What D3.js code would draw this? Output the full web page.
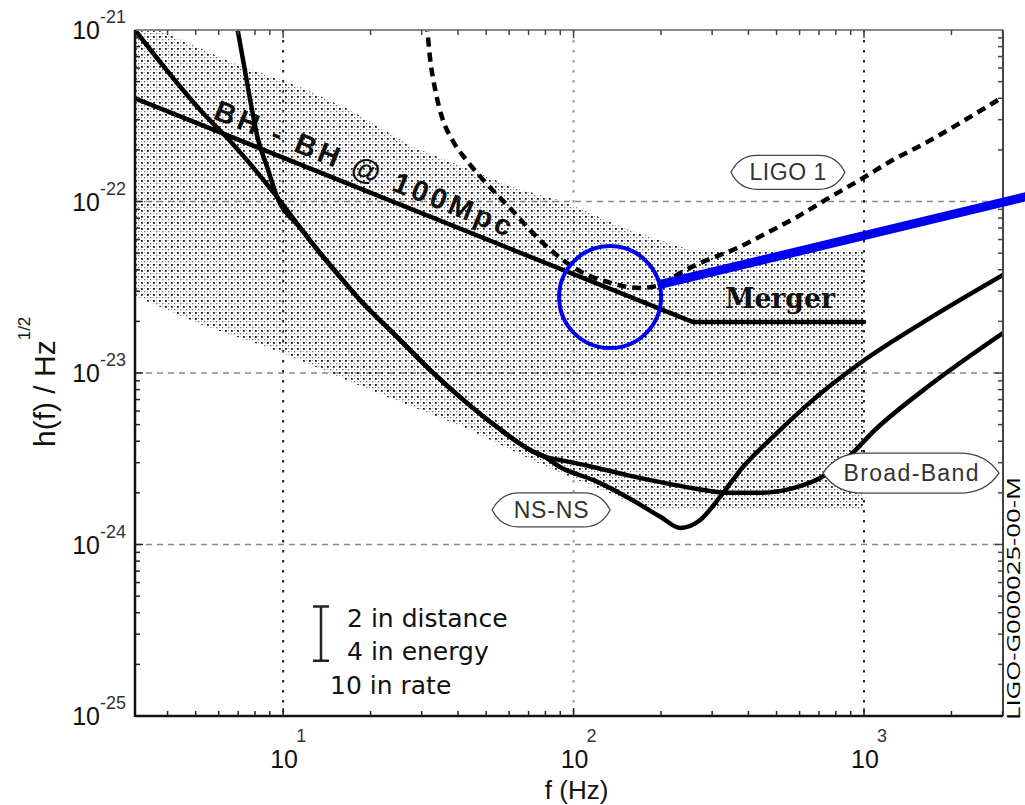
<!DOCTYPE html>
<meta charset="utf-8">
<style>
  body { margin: 0; background: #fff; }
  svg { display: block; }

  .curve { fill: none; stroke: #000; stroke-width: 4.5px; stroke-linejoin: round; stroke-linecap: round; }
  .ligo1 { fill: none; stroke: #000; stroke-width: 4.5px; stroke-dasharray: 9,6; }
  .tick-label { font-family: "Liberation Sans", Arial, sans-serif; font-size: 25px; fill: #111; }
  .tick-exp { font-family: "Liberation Sans", Arial, sans-serif; font-size: 18px; fill: #333; }
  .tag { fill: #fff; stroke: #444; stroke-width: 1.3px; }
  .tag-text { font-family: "Liberation Sans", Arial, sans-serif; font-size: 23px; fill: #333; text-anchor: middle; }
  .note { font-family: "DejaVu Sans", sans-serif; font-size: 25px; fill: #111; }
</style>
<body>
<script src="https://d3js.org/d3.v7.min.js"></script>
<script>

// shaded band of BH-BH sources
var bandUpper = [[3.09, 1.15e-21], [6.73, 6.43e-22], [11.4, 4.66e-22], [17.0, 3.42e-22],
  [28.0, 2.08e-22], [41.7, 1.59e-22], [61.9, 1.21e-22], [92, 1.0e-22], [156, 6.8e-23],
  [252, 5.21e-23], [1000, 5.21e-23]];
var bandLower = [[3.09, 2.81e-23], [5.06, 1.96e-23], [10, 1.31e-23], [18.8, 8.28e-24],
  [41.7, 4.84e-24], [81, 2.83e-24], [183, 1.59e-24], [1000, 1.59e-24]];

// BH-BH @ 100Mpc inspiral, then merger plateau
var bhbh = [[3.09, 4.0e-22], [258, 1.98e-23], [1000, 1.98e-23]];

// LIGO 1 (dashed)
var ligo1 = [[30.9, 1.1e-21], [31.3, 1.0e-21], [32.1, 6.68e-22], [33.4, 4.47e-22], [35.3, 3.07e-22],
  [38.2, 2.29e-22], [42.7, 1.75e-22], [49.6, 1.30e-22], [60.4, 9.16e-23], [79.8, 5.57e-23],
  [101, 4.09e-23], [134, 3.35e-23], [169, 3.13e-23], [199, 3.26e-23], [233, 3.83e-23],
  [273, 4.38e-23], [366, 5.36e-23], [449, 6.38e-23], [588, 8.13e-23], [764, 1.06e-22],
  [992, 1.37e-22], [1259, 1.75e-22], [1648, 2.22e-22], [2141, 2.87e-22], [3010, 4.07e-22]];

// common low frequency part of the two advanced curves
var sharedLow = [[11.4, 7.1e-23], [13.4, 5.01e-23], [15.3, 3.83e-23], [18.8, 2.56e-23],
  [24.7, 1.62e-23], [32.1, 1.04e-23], [41.7, 6.97e-24], [54.5, 4.84e-24], [70.8, 3.56e-24],
  [79.8, 3.24e-24]];

// broad-band configuration
var broadStart = [[6.9, 1.1e-21], [7.28, 6.68e-22], [7.70, 3.91e-22], [8.20, 2.29e-22],
  [8.81, 1.59e-22], [9.54, 1.06e-22]];
var broadEnd = [[89.8, 3.11e-24], [116.7, 2.83e-24], [152.8, 2.54e-24], [199, 2.31e-24],
  [258, 2.13e-24], [338, 2.0e-24], [438, 2.0e-24], [570, 2.13e-24], [706, 2.44e-24],
  [847, 3.03e-24], [1109, 4.78e-24], [1687, 8.51e-24], [3010, 1.71e-23]];

// NS-NS tuned configuration
var nsnsStart = [[3.09, 1.0e-21], [5.18, 3.42e-22], [6.73, 2.15e-22], [9.54, 1.06e-22]];
var nsnsEnd = [[89.8, 2.83e-24], [116.7, 2.38e-24], [152.8, 1.89e-24], [199, 1.45e-24],
  [233, 1.25e-24], [273, 1.39e-24], [319, 1.89e-24], [383, 2.83e-24], [502, 4.47e-24],
  [667, 6.97e-24], [968, 1.14e-23], [1648, 2.04e-23], [3010, 3.73e-23]];

// tick labels (powers of ten)
var xTickExp = [1, 2, 3];
var yTickExp = [-21, -22, -23, -24, -25];

// curve tags
var tagNames = ["LIGO 1", "NS-NS", "Broad-Band"];
var tagFreq = [547, 83.7, 1451];
var tagStrain = [1.48e-22, 1.59e-24, 2.61e-24];

// scale bar legend
var scaleNotes = ["2 in distance", "4 in energy", "10 in rate"];
var scaleNoteFreq = [16.6, 16.6, 14.5];
var scaleNoteStrain = [3.30e-25, 2.12e-25, 1.34e-25];
var scaleBar = [2.1e-25, 4.35e-25];   // factor ~2 in h
var scaleBarFreq = 13.5;

// blue highlight
var highlightCentre = [133.6, 2.77e-23];
var highlightPointer = [[195.4, 3.26e-23], [3727, 1.08e-22]];

// ---- layout ----
var margin = {top: 30, right: 22, bottom: 89, left: 135},
    width = 1025 - margin.left - margin.right,
    height = 805 - margin.top - margin.bottom;

var svg = d3.select("body").append("svg")
    .attr("width", 1025)
    .attr("height", 805);

var g = svg.append("g")
    .attr("transform", "translate(" + margin.left + "," + margin.top + ")");

var x = d3.scaleLog().domain([3.09, 3010]).range([0, width]);
var y = d3.scaleLog().domain([1e-25, 1e-21]).range([height, 0]);

var line = d3.line()
    .x(function(d) { return x(d[0]); })
    .y(function(d) { return y(d[1]); });
var smooth = d3.line()
    .curve(d3.curveMonotoneX)
    .x(function(d) { return x(d[0]); })
    .y(function(d) { return y(d[1]); });

var defs = svg.append("defs");
defs.append("clipPath").attr("id", "plotClip")
  .append("rect").attr("width", width).attr("height", height);

// halftone stipple
var pat = defs.append("pattern")
    .attr("id", "stipple")
    .attr("width", 6).attr("height", 6)
    .attr("patternUnits", "userSpaceOnUse");
pat.append("rect").attr("x", 0).attr("y", 0).attr("width", 1.8).attr("height", 1.8).attr("fill", "#111");
pat.append("rect").attr("x", 3).attr("y", 3).attr("width", 1.3).attr("height", 1.3).attr("fill", "#666");
pat.append("rect").attr("x", 3).attr("y", 0).attr("width", 1).attr("height", 1).attr("fill", "#aaa");
pat.append("rect").attr("x", 0).attr("y", 3).attr("width", 1).attr("height", 1).attr("fill", "#aaa");

// ---- grid ----
var xMajor = xTickExp.map(function(e) { return Math.pow(10, e); });
var yMajor = yTickExp.map(function(e) { return Math.pow(10, e); });

g.selectAll(".hgrid")
  .data(yMajor.filter(function(v) { return v > 1e-25 && v < 1e-21; }))
  .enter().append("line")
    .attr("class", "hgrid")
    .attr("x1", 0).attr("x2", width)
    .attr("y1", function(d) { return y(d); })
    .attr("y2", function(d) { return y(d); })
    .attr("stroke", "#888").attr("stroke-width", 1.5)
    .attr("stroke-dasharray", "6,5");

g.selectAll(".vgrid")
  .data(xMajor)
  .enter().append("line")
    .attr("class", "vgrid")
    .attr("x1", function(d) { return x(d); })
    .attr("x2", function(d) { return x(d); })
    .attr("y1", 0).attr("y2", height)
    .attr("stroke", function(d) { return d === 100 ? "#999" : "#222"; })
    .attr("stroke-width", 2)
    .attr("stroke-dasharray", "2.5,7.5");

var plot = g.append("g").attr("clip-path", "url(#plotClip)");

// ---- shaded band ----
var bandPoly = bandUpper.concat(bandLower.slice().reverse());
plot.append("path")
    .attr("d", line(bandPoly) + "Z")
    .attr("fill", "url(#stipple)");

// ---- BH-BH label along the inspiral line ----
var pA = [x(bhbh[0][0]), y(bhbh[0][1])],
    pB = [x(bhbh[1][0]), y(bhbh[1][1])];
var dx = pB[0] - pA[0], dy = pB[1] - pA[1], len = Math.sqrt(dx * dx + dy * dy);
var angle = Math.atan2(dy, dx) * 180 / Math.PI;
var labelX = x(5.52);
var t = (labelX - pA[0]) / dx;
var lx = labelX + dy / len * 10, ly = pA[1] + t * dy - dx / len * 10;
plot.append("text")
    .attr("transform", "translate(" + lx + "," + ly + ") rotate(" + angle + ")")
    .attr("textLength", 318)
    .attr("lengthAdjust", "spacing")
    .style("font-family", "Liberation Sans, Arial, sans-serif")
    .style("font-weight", "bold")
    .style("font-size", "29px")
    .style("fill", "#111")
    .text("BH - BH @ 100Mpc");

// ---- curves ----
plot.append("path").attr("class", "curve").attr("d", line(bhbh));
plot.append("path").attr("class", "curve")
    .attr("d", smooth(broadStart.concat(sharedLow, broadEnd)));
plot.append("path").attr("class", "curve")
    .attr("d", smooth(nsnsStart.concat(sharedLow, nsnsEnd)));
plot.append("path").attr("class", "ligo1").attr("d", smooth(ligo1));

// Merger
g.append("text")
    .attr("x", x(332)).attr("y", y(2.39e-23))
    .attr("textLength", 110)
    .attr("lengthAdjust", "spacingAndGlyphs")
    .style("font-family", "DejaVu Serif, serif")
    .style("font-weight", "bold")
    .style("font-size", "27px")
    .style("fill", "#111")
    .text("Merger");

// ---- curve tags ----
var tagSize = {"LIGO 1": [57, 17, 77], "NS-NS": [59, 17, 75], "Broad-Band": [88, 20, 135]};

function tagPath(cx, cy, rx, ry) {
  return "M" + (cx - rx) + "," + cy +
    "Q" + (cx - rx * 0.85) + "," + (cy - ry) + " " + (cx - rx * 0.55) + "," + (cy - ry) +
    "L" + (cx + rx * 0.55) + "," + (cy - ry) +
    "Q" + (cx + rx * 0.85) + "," + (cy - ry) + " " + (cx + rx) + "," + cy +
    "Q" + (cx + rx * 0.85) + "," + (cy + ry) + " " + (cx + rx * 0.55) + "," + (cy + ry) +
    "L" + (cx - rx * 0.55) + "," + (cy + ry) +
    "Q" + (cx - rx * 0.85) + "," + (cy + ry) + " " + (cx - rx) + "," + cy + "Z";
}

tagNames.forEach(function(name, i) {
  var cx = x(tagFreq[i]), cy = y(tagStrain[i]), s = tagSize[name];
  g.append("path").attr("class", "tag").attr("d", tagPath(cx, cy, s[0], s[1]));
  g.append("text").attr("class", "tag-text")
    .attr("x", cx).attr("y", cy + 8)
    .attr("textLength", s[2]).attr("lengthAdjust", "spacing")
    .text(name);
});

// ---- scale bar legend ----
g.append("line")
    .attr("x1", x(scaleBarFreq)).attr("x2", x(scaleBarFreq))
    .attr("y1", y(scaleBar[0])).attr("y2", y(scaleBar[1]))
    .attr("stroke", "#222").attr("stroke-width", 2.5);
scaleBar.forEach(function(v) {
  g.append("line")
    .attr("x1", x(scaleBarFreq) - 8).attr("x2", x(scaleBarFreq) + 8)
    .attr("y1", y(v)).attr("y2", y(v))
    .attr("stroke", "#222").attr("stroke-width", 2.5);
});
scaleNotes.forEach(function(s, i) {
  g.append("text").attr("class", "note")
    .attr("x", x(scaleNoteFreq[i])).attr("y", y(scaleNoteStrain[i]))
    .text(s);
});

// ---- frame + ticks ----
g.append("line").attr("x1", 0).attr("x2", width).attr("y1", 0).attr("y2", 0)
    .attr("stroke", "#888").attr("stroke-width", 2);
g.append("line").attr("x1", width).attr("x2", width).attr("y1", 0).attr("y2", height)
    .attr("stroke", "#444").attr("stroke-width", 2);
g.append("line").attr("x1", 0).attr("x2", 0).attr("y1", 0).attr("y2", height + 1)
    .attr("stroke", "#111").attr("stroke-width", 2.5);
g.append("line").attr("x1", 0).attr("x2", width).attr("y1", height).attr("y2", height)
    .attr("stroke", "#111").attr("stroke-width", 2.5);

var xt = x.ticks().filter(function(v) { return v > 3.09 && v < 3010; });
var yt = y.ticks().filter(function(v) { return v > 1e-25 && v < 1e-21; });
function isMajor(v) { return Math.abs(Math.log10(v) - Math.round(Math.log10(v))) < 1e-6; }

xt.forEach(function(v) {
  var px = x(v), len = isMajor(v) ? 8 : 5;
  g.append("line").attr("x1", px).attr("x2", px).attr("y1", height).attr("y2", height - len)
    .attr("stroke", "#222").attr("stroke-width", 1.5);
  g.append("line").attr("x1", px).attr("x2", px).attr("y1", 0).attr("y2", len)
    .attr("stroke", "#444").attr("stroke-width", 1.5);
});
yt.forEach(function(v) {
  var py = y(v), len = isMajor(v) ? 8 : 5;
  g.append("line").attr("x1", 0).attr("x2", len).attr("y1", py).attr("y2", py)
    .attr("stroke", "#222").attr("stroke-width", 1.5);
  g.append("line").attr("x1", width).attr("x2", width - len).attr("y1", py).attr("y2", py)
    .attr("stroke", "#444").attr("stroke-width", 1.5);
});

// tick labels
yTickExp.forEach(function(e) {
  var ty = y(Math.pow(10, e));
  g.append("text").attr("class", "tick-label")
    .attr("x", -35).attr("y", ty + 9).attr("text-anchor", "end").text("10");
  g.append("text").attr("class", "tick-exp")
    .attr("x", -35).attr("y", ty - 7).text(e);
});
xTickExp.forEach(function(e) {
  var tx = x(Math.pow(10, e));
  g.append("text").attr("class", "tick-label")
    .attr("x", tx + 1).attr("y", height + 52).attr("text-anchor", "middle").text("10");
  g.append("text").attr("class", "tick-exp")
    .attr("x", tx + 13).attr("y", height + 26).text(e);
});

// axis titles
g.append("text")
    .attr("x", x(100) + 3).attr("y", height + 83)
    .attr("text-anchor", "middle")
    .style("font-family", "Liberation Sans, Arial, sans-serif")
    .style("font-size", "26px")
    .style("fill", "#111")
    .text("f (Hz)");

var yTitle = svg.append("text")
    .attr("transform", "translate(55,447) rotate(-90)")
    .style("font-family", "Liberation Sans, Arial, sans-serif")
    .style("font-size", "30px")
    .style("fill", "#111");
yTitle.append("tspan").text("h(f) / Hz");
yTitle.append("tspan").attr("dy", -25).style("font-size", "17px").text("1/2");

// document number on the right edge
svg.append("text")
    .attr("transform", "translate(1020,720) rotate(-90)")
    .attr("textLength", 243)
    .attr("lengthAdjust", "spacingAndGlyphs")
    .style("font-family", "Open Sans, sans-serif")
    .style("font-size", "19px")
    .style("fill", "#000")
    .text("LIGO-G000025-00-M");

// ---- blue highlight ----
g.append("circle")
    .attr("cx", x(highlightCentre[0])).attr("cy", y(highlightCentre[1]))
    .attr("r", 51)
    .attr("fill", "none").attr("stroke", "#0000f0").attr("stroke-width", 4);
g.append("path")
    .attr("d", line(highlightPointer))
    .attr("fill", "none").attr("stroke", "#0000f0").attr("stroke-width", 9);

</script>
</body>
